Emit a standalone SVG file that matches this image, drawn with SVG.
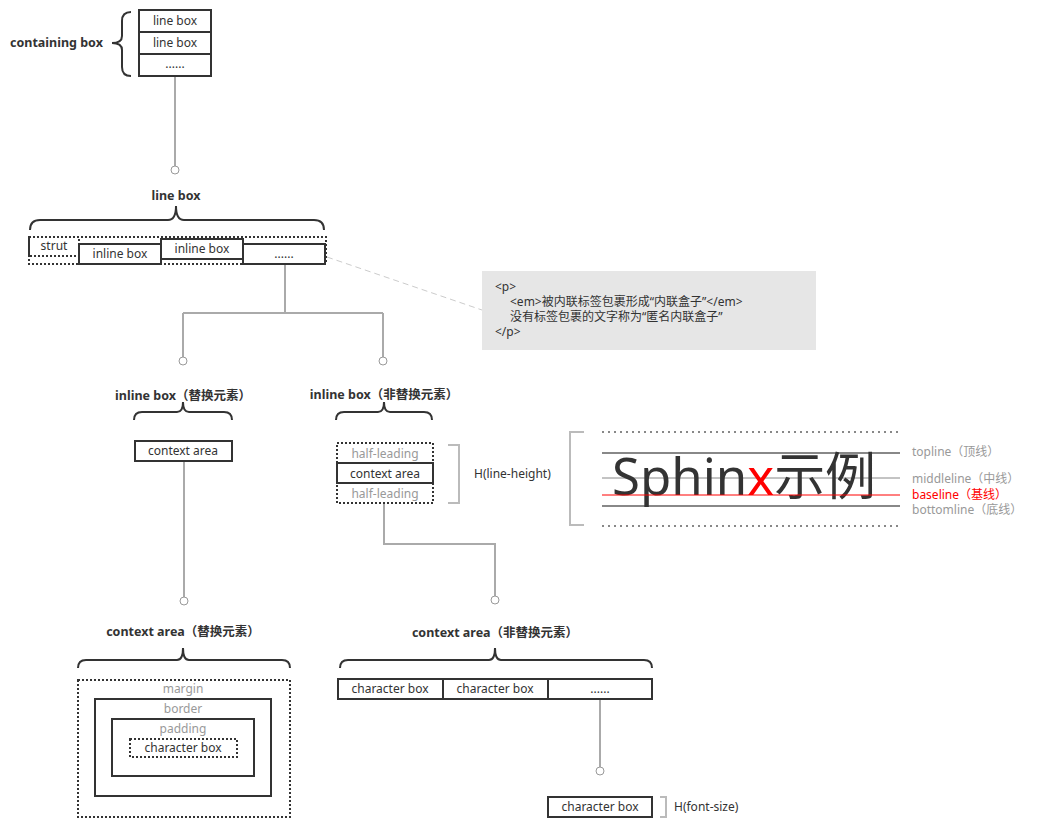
<svg xmlns="http://www.w3.org/2000/svg" width="1041" height="827" viewBox="0 0 1041 827">
<style>
text{font-family:"Noto Sans","Noto Sans CJK SC",sans-serif;font-size:12px;fill:#333}
.b{font-weight:bold;font-size:12.5px}
.c{text-anchor:middle}
.g{fill:#999}
.r{fill:#f00}
.box{fill:#fff;stroke:#333;stroke-width:2}
.dot{fill:none;stroke:#333;stroke-width:2;stroke-dasharray:2 2}
.br{fill:none;stroke:#333;stroke-width:2}
.gb{fill:none;stroke:#bbb;stroke-width:2}
.con{fill:none;stroke:#aaa;stroke-width:2}
.pin{fill:#fff;stroke:#999;stroke-width:1}
</style>
<g id="connectors">
<path class="con" d="M175,76 V166"/>
<circle class="pin" cx="175" cy="170" r="4"/>
<path class="con" d="M285,264 V313 M183,313 H383 M183,313 V357 M383,313 V357"/>
<circle class="pin" cx="183" cy="361" r="4"/>
<circle class="pin" cx="383" cy="361" r="4"/>
<path d="M327,257 L482,310" fill="none" stroke="#ccc" stroke-width="1" stroke-dasharray="6 4"/>
<path class="con" d="M184,461 V597"/>
<circle class="pin" cx="184" cy="601" r="4"/>
<path class="con" d="M384,503 V544 H495 V596"/>
<circle class="pin" cx="495" cy="600" r="4"/>
<path class="con" d="M600,699 V767"/>
<circle class="pin" cx="600" cy="771" r="4"/>
</g>
<g id="containing-box">
<text class="b" x="10" y="47">containing box</text>
<path class="br" d="M131,12 Q122,12 122,21 L122,36 Q122,43 112,43 Q122,43 122,50 L122,67 Q122,76 131,76"/>
<rect class="box" x="139" y="10" width="72" height="22"/>
<rect class="box" x="139" y="32" width="72" height="22"/>
<rect class="box" x="139" y="54" width="72" height="22"/>
<text class="c" x="175" y="25">line box</text>
<text class="c" x="175" y="47">line box</text>
<text class="c" x="175" y="68" font-size="9">......</text>
</g>
<g id="line-box">
<text class="b c" x="176" y="200">line box</text>
<path class="br" d="M30,230 Q30,220 40,220 L168,220 Q176,220 176,206 Q176,220 184,220 L314,220 Q324,220 324,230"/>
<rect class="dot" x="29" y="237" width="297" height="27"/>
<rect class="dot" x="29" y="237" width="50" height="19"/>
<text class="c" x="54" y="250">strut</text>
<rect class="box" x="79" y="244" width="82" height="20"/>
<text class="c" x="120" y="258">inline box</text>
<rect class="box" x="161" y="239" width="82" height="20"/>
<text class="c" x="202" y="253">inline box</text>
<rect class="box" x="243" y="244" width="82" height="20"/>
<text class="c" x="284" y="258" font-size="9">......</text>
</g>
<g id="note">
<rect x="482" y="271" width="334" height="79" fill="#e6e6e6"/>
<text x="495" y="291" font-size="11.5">&lt;p&gt;</text>
<text x="510" y="306" font-size="11.5">&lt;em&gt;被内联标签包裹形成“内联盒子”&lt;/em&gt;</text>
<text x="510" y="321" font-size="11.5">没有标签包裹的文字称为“匿名内联盒子”</text>
<text x="495" y="336" font-size="11.5">&lt;/p&gt;</text>
</g>
<g id="inline-replaced">
<text class="b c" x="183" y="400">inline box（替换元素）</text>
<path class="br" d="M134,420 Q134,412 142,412 L177,412 Q183,412 183,402 Q183,412 189,412 L224,412 Q232,412 232,420"/>
<rect class="box" x="135" y="441" width="97" height="20"/>
<text class="c" x="183" y="455">context area</text>
</g>
<g id="inline-nonreplaced">
<text class="b c" x="384" y="399">inline box（非替换元素）</text>
<path class="br" d="M336,420 Q336,412 344,412 L378,412 Q384,412 384,402 Q384,412 390,412 L424,412 Q432,412 432,420"/>
<rect class="dot" x="337" y="443" width="96" height="60"/>
<text class="c g" x="385" y="458">half-leading</text>
<rect class="box" x="337" y="463" width="96" height="20"/>
<text class="c" x="385" y="478">context area</text>
<text class="c g" x="385" y="498">half-leading</text>
<path class="gb" d="M448,445 H459 V503 H448"/>
<text x="474" y="478">H(line-height)</text>
</g>
<g id="baseline-example">
<path class="gb" d="M584,432 H570 V525 H584"/>
<path d="M602,432 H900 M602,526 H900" fill="none" stroke="#888" stroke-width="2" stroke-dasharray="2 4"/>
<path d="M602,453 H900 M602,506 H900" fill="none" stroke="#888" stroke-width="2"/>
<path d="M602,478 H900" fill="none" stroke="#888" stroke-width="1"/>
<text x="612" y="495" style="font-size:51px" textLength="264" lengthAdjust="spacingAndGlyphs"><tspan>Sphin</tspan><tspan fill="#f00">x</tspan><tspan>示例</tspan></text>
<path d="M602,495 H900" fill="none" stroke="#f00" stroke-width="1"/>
<text class="g" x="912" y="456">topline（顶线）</text>
<text class="g" x="912" y="483">middleline（中线）</text>
<text class="r" x="912" y="499">baseline（基线）</text>
<text class="g" x="912" y="514">bottomline（底线）</text>
</g>
<g id="context-replaced">
<text class="b c" x="183" y="636">context area（替换元素）</text>
<path class="br" d="M78,668 Q78,660 86,660 L177,660 Q183,660 183,648 Q183,660 189,660 L282,660 Q290,660 290,668"/>
<rect class="dot" x="78" y="680" width="212" height="137"/>
<text class="c g" x="183" y="693">margin</text>
<rect class="box" x="95" y="699" width="176" height="97"/>
<text class="c g" x="183" y="713">border</text>
<rect class="box" x="112" y="719" width="142" height="57"/>
<text class="c g" x="183" y="733">padding</text>
<rect class="dot" x="130" y="739" width="107" height="18"/>
<text class="c" x="183" y="752">character box</text>
</g>
<g id="context-nonreplaced">
<text class="b c" x="495" y="637">context area（非替换元素）</text>
<path class="br" d="M340,668 Q340,660 348,660 L489,660 Q495,660 495,648 Q495,660 501,660 L644,660 Q652,660 652,668"/>
<rect class="box" x="338" y="679" width="105" height="20"/>
<text class="c" x="390" y="693">character box</text>
<rect class="box" x="443" y="679" width="105" height="20"/>
<text class="c" x="495" y="693">character box</text>
<rect class="box" x="548" y="679" width="104" height="20"/>
<text class="c" x="600" y="693" font-size="9">......</text>
</g>
<g id="character-box">
<rect class="box" x="548" y="797" width="104" height="20"/>
<text class="c" x="600" y="811">character box</text>
<path class="gb" d="M660,797 H666 V817 H660" stroke-width="1.5"/>
<text x="674" y="811">H(font-size)</text>
</g>
</svg>
